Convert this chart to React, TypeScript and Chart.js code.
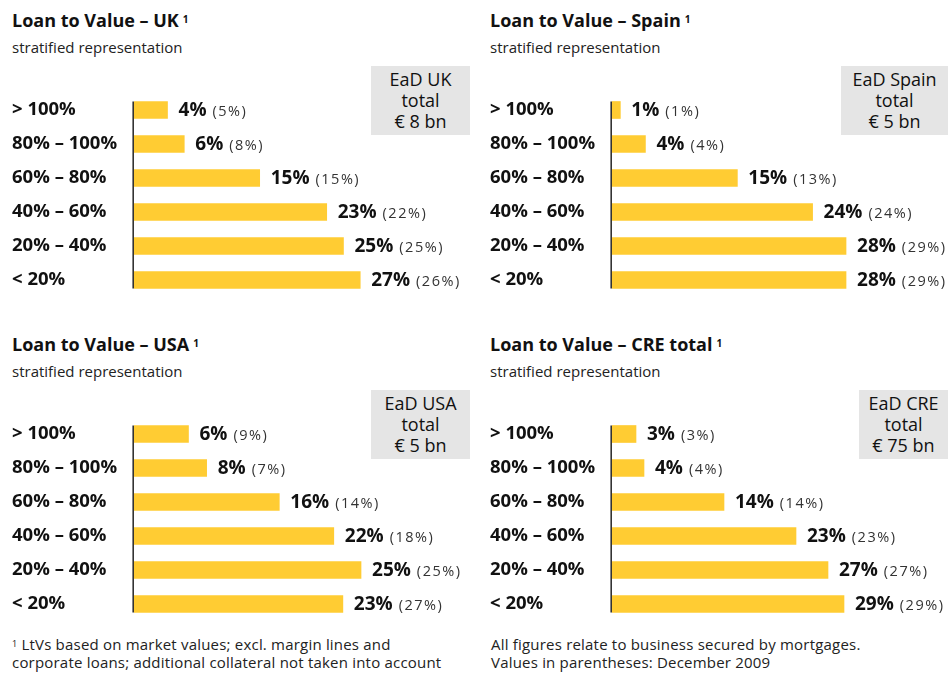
import React, { useEffect, useRef } from "react";
import { Chart, registerables } from "chart.js";

Chart.register(...registerables);

const categories = ["> 100%", "80% – 100%", "60% – 80%", "40% – 60%", "20% – 40%", "< 20%"];

const ukValues = [4, 6, 15, 23, 25, 27];
const ukPrev = [5, 8, 15, 22, 25, 26];
const spainValues = [1, 4, 15, 24, 28, 28];
const spainPrev = [1, 4, 13, 24, 29, 29];
const usaValues = [6, 8, 16, 22, 25, 23];
const usaPrev = [9, 7, 14, 18, 25, 27];
const creValues = [3, 4, 14, 23, 27, 29];
const crePrev = [3, 4, 14, 23, 27, 29];

const FONT = "'Open Sans', 'DejaVu Sans', sans-serif";
const BAR = "#ffcc33";
const TEXT = "#111111";

type PanelDef = {
  title: string;
  box: string[];
  values: number[];
  prev: number[];
  xMax: number;
  left: number;
  top: number;
  boxWidth: number;
};

const panels: PanelDef[] = [
  { title: "Loan to Value – UK", box: ["EaD UK", "total", "€ 8 bn"], values: ukValues, prev: ukPrev, xMax: 40.1, left: 0, top: 0, boxWidth: 99 },
  { title: "Loan to Value – Spain", box: ["EaD Spain", "total", "€ 5 bn"], values: spainValues, prev: spainPrev, xMax: 40.2, left: 478, top: 0, boxWidth: 107 },
  { title: "Loan to Value – USA", box: ["EaD USA", "total", "€ 5 bn"], values: usaValues, prev: usaPrev, xMax: 37, left: 0, top: 324, boxWidth: 99 },
  { title: "Loan to Value – CRE total", box: ["EaD CRE", "total", "€ 75 bn"], values: creValues, prev: crePrev, xMax: 42, left: 478, top: 324, boxWidth: 89 },
];

function BarPanel({ p }: { p: PanelDef }) {
  const ref = useRef<HTMLCanvasElement | null>(null);
  useEffect(() => {
    if (!ref.current) return;
    const labelPlugin = {
      id: "valueLabels",
      afterDatasetsDraw(chart: any) {
        const ctx = chart.ctx;
        const meta = chart.getDatasetMeta(0);
        const area = chart.chartArea;
        ctx.save();
        const first = meta.data[0];
        const last = meta.data[meta.data.length - 1];
        ctx.strokeStyle = "#333333";
        ctx.lineWidth = 1.6;
        ctx.beginPath();
        ctx.moveTo(area.left - 0.8, first.y - first.height / 2);
        ctx.lineTo(area.left - 0.8, last.y + last.height / 2);
        ctx.stroke();
        meta.data.forEach((bar: any, i: number) => {
          const x = bar.x + 11;
          const y = bar.y + 1;
          ctx.textBaseline = "middle";
          ctx.textAlign = "left";
          ctx.fillStyle = TEXT;
          ctx.font = `bold 19px ${FONT}`;
          if ("letterSpacing" in ctx) (ctx as any).letterSpacing = "0px";
          const main = `${p.values[i]}%`;
          ctx.fillText(main, x, y);
          const w = ctx.measureText(main).width;
          ctx.fillStyle = "#333333";
          ctx.font = `14.5px ${FONT}`;
          if ("letterSpacing" in ctx) (ctx as any).letterSpacing = "1.5px";
          ctx.fillText(`(${p.prev[i]}%)`, x + w + 6, y + 1);
        });
        if ("letterSpacing" in ctx) (ctx as any).letterSpacing = "0px";
        ctx.restore();
      },
    };
    const chart = new Chart(ref.current, {
      type: "bar",
      data: {
        labels: categories,
        datasets: [
          {
            data: p.values,
            backgroundColor: BAR,
            barThickness: 17,
            borderWidth: 0,
          },
        ],
      },
      options: {
        indexAxis: "y",
        animation: false,
        responsive: false,
        maintainAspectRatio: false,
        layout: { padding: { left: 12, right: 5, top: 3, bottom: 3 } },
        plugins: { legend: { display: false }, tooltip: { enabled: false } },
        scales: {
          x: { display: false, min: 0, max: p.xMax },
          y: {
            grid: { display: false },
            border: { display: false },
            afterFit: (scale: any) => {
              scale.width = 122;
              scale.paddingTop = 0;
              scale.paddingBottom = 0;
            },
            ticks: {
              crossAlign: "far",
              padding: 0,
              color: TEXT,
              font: { family: FONT, size: 18.5, weight: "bold" },
            },
          },
        },
      },
      plugins: [labelPlugin],
    });
    return () => chart.destroy();
  }, [p]);
  return (
    <canvas
      ref={ref}
      width={475}
      height={210}
      style={{ position: "absolute", left: p.left, top: p.top + 90, width: 475, height: 210 }}
    />
  );
}

function Panel({ p }: { p: PanelDef }) {
  const tx = p.left + 12;
  return (
    <>
      <div
        style={{
          position: "absolute",
          left: tx,
          top: p.top + 10,
          fontFamily: FONT,
          fontWeight: "bold",
          fontSize: 18,
          lineHeight: "20px",
          color: TEXT,
          whiteSpace: "nowrap",
        }}
      >
        {p.title}
        <span style={{ fontSize: 10, verticalAlign: "top", marginLeft: 4, position: "relative", top: -1 }}>1</span>
      </div>
      <div
        style={{
          position: "absolute",
          left: tx,
          top: p.top + 38,
          fontFamily: FONT,
          fontSize: 15,
          lineHeight: "18px",
          color: "#222",
          whiteSpace: "nowrap",
        }}
      >
        stratified representation
      </div>
      <div
        style={{
          position: "absolute",
          left: p.left + 470 - p.boxWidth,
          top: p.top + 66,
          width: p.boxWidth,
          height: 69,
          background: "#e5e5e5",
          boxSizing: "border-box",
          paddingTop: 3,
          textAlign: "center",
          fontFamily: FONT,
          fontSize: 18,
          lineHeight: "21px",
          color: TEXT,
        }}
      >
        {p.box.map((l, i) => (
          <div key={i} style={{ whiteSpace: "nowrap" }}>{l}</div>
        ))}
      </div>
      <BarPanel p={p} />
    </>
  );
}

export default function App() {
  const foot = {
    position: "absolute" as const,
    top: 635,
    fontFamily: FONT,
    fontSize: 15,
    lineHeight: "18px",
    color: "#222",
    whiteSpace: "nowrap" as const,
    letterSpacing: "0.2px",
  };
  return (
    <div style={{ position: "absolute", left: 0, top: 0, width: 949, height: 676, background: "#fff", overflow: "hidden" }}>
      {panels.map((p, i) => (
        <Panel key={i} p={p} />
      ))}
      <div style={{ ...foot, left: 12 }}>
        <span style={{ fontSize: 9, verticalAlign: "top" }}>1</span> LtVs based on market values; excl. margin lines and
        <br />
        corporate loans; additional collateral not taken into account
      </div>
      <div style={{ ...foot, left: 491 }}>
        All figures relate to business secured by mortgages.
        <br />
        Values in parentheses: December 2009
      </div>
    </div>
  );
}
